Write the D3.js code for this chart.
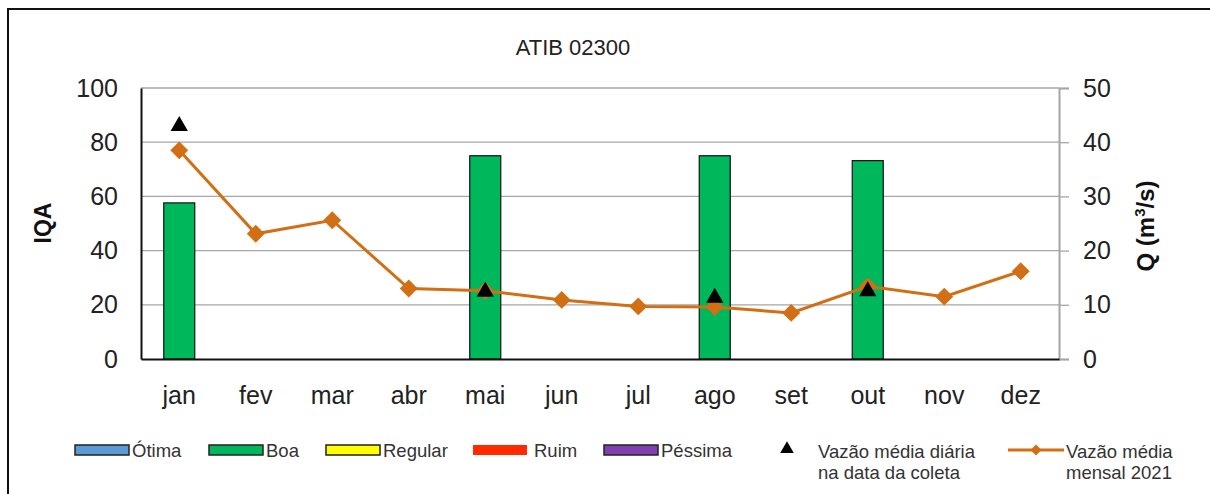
<!DOCTYPE html>
<html lang="pt">
<head>
<meta charset="UTF-8">
<title>ATIB 02300</title>
<script src="https://cdn.jsdelivr.net/npm/d3@7"></script>
<style>
    body { margin: 0; background: #fff; font-family: "Liberation Sans", Arial, sans-serif; }
    .tick text { font-size: 25px; fill: #222; }
    .legend text { font-size: 18.5px; fill: #333; }
</style>
</head>
<body>
<div id="chart"></div>
<script>
    var WIDTH = 1210, HEIGHT = 494;
    var PLOT = {left: 141, right: 1059, top: 88, bottom: 359};

    var MONTHS = ["jan", "fev", "mar", "abr", "mai", "jun", "jul", "ago", "set", "out", "nov", "dez"];
    // IQA por mes (null = sem coleta)
    var IQA = [57.6, null, null, null, 75, null, null, 75, null, 73.2, null, null];
    var IQA_CLASS = ["Boa", null, null, null, "Boa", null, null, "Boa", null, "Boa", null, null];
    // vazao media diaria na data da coleta
    var Q_DAILY = [43.0, null, null, null, 12.4, null, null, 11.3, null, 12.5, null, null];
    // vazao media mensal 2021
    var Q_MONTHLY = [38.5, 23.1, 25.6, 13.0, 12.6, 10.9, 9.7, 9.6, 8.5, 13.4, 11.5, 16.2];
    var IQA_TICKS = [0, 20, 40, 60, 80, 100];
    var Q_TICKS = [0, 10, 20, 30, 40, 50];

    var CLASSES = ["Ótima", "Boa", "Regular", "Ruim", "Péssima"];
    var CLASS_COLORS = {"Ótima": "#5b9bd5", "Boa": "#00b85c", "Regular": "#ffff00", "Ruim": "#ff2a00", "Péssima": "#8040b0"};
    var LINE_COLOR = "#d26f14";
    var GRID_COLOR = "#a6a6a6";

    var svg = d3.select("#chart").append("svg")
        .attr("width", WIDTH).attr("height", HEIGHT);

    // outer frame
    svg.append("rect")
        .attr("x", 8).attr("y", 9).attr("width", WIDTH + 20).attr("height", HEIGHT + 20)
        .attr("fill", "none").attr("stroke", "#111").attr("stroke-width", 2);

    svg.append("text").text("ATIB 02300")
        .attr("x", 573).attr("y", 55).attr("text-anchor", "middle")
        .style("font-size", "22px").style("fill", "#222");

    var x = d3.scaleBand().domain(MONTHS).range([PLOT.left, PLOT.right]);
    var yL = d3.scaleLinear().domain([0, 100]).range([PLOT.bottom, PLOT.top]);
    var yR = d3.scaleLinear().domain([0, 50]).range([PLOT.bottom, PLOT.top]);

    // gridlines
    svg.append("g").selectAll("line").data(IQA_TICKS.slice(1)).enter().append("line")
        .attr("x1", PLOT.left).attr("x2", PLOT.right)
        .attr("y1", function(d){ return yL(d); }).attr("y2", function(d){ return yL(d); })
        .attr("stroke", GRID_COLOR).attr("stroke-width", 1.3);

    // bars
    var barW = 31;
    svg.append("g").selectAll("rect")
        .data(MONTHS.map(function(m, i){ return {m: m, v: IQA[i], c: IQA_CLASS[i]}; })
            .filter(function(d){ return d.v !== null; }))
        .enter().append("rect")
        .attr("x", function(d){ return x(d.m) + x.bandwidth() / 2 - barW / 2; })
        .attr("y", function(d){ return yL(d.v); })
        .attr("width", barW)
        .attr("height", function(d){ return yL(0) - yL(d.v); })
        .attr("fill", function(d){ return CLASS_COLORS[d.c]; })
        .attr("stroke", "#111").attr("stroke-width", 1.2);

    // axes
    var leftAxis = svg.append("g").attr("transform", "translate(" + PLOT.left + ",0)")
        .call(d3.axisLeft(yL).tickValues(IQA_TICKS).tickSize(0).tickPadding(23));
    leftAxis.select(".domain").attr("stroke", "#111").attr("stroke-width", 2);

    var rightAxis = svg.append("g").attr("transform", "translate(" + PLOT.right + ",0)")
        .call(d3.axisRight(yR).tickValues(Q_TICKS).tickSize(10).tickPadding(14));
    rightAxis.select(".domain").attr("stroke", GRID_COLOR).attr("stroke-width", 2);
    rightAxis.selectAll(".tick line").attr("stroke", GRID_COLOR).attr("stroke-width", 1.3);

    var bottomAxis = svg.append("g").attr("transform", "translate(0," + PLOT.bottom + ")")
        .call(d3.axisBottom(x).tickSize(0).tickPadding(27));
    bottomAxis.select(".domain").attr("stroke", "#111").attr("stroke-width", 2);

    svg.append("text").text("IQA")
        .attr("transform", "translate(51,223) rotate(-90)")
        .attr("text-anchor", "middle")
        .style("font-size", "23px").style("font-weight", "bold").style("fill", "#111");

    var qLabel = svg.append("text")
        .attr("transform", "translate(1154,226) rotate(-90)")
        .attr("text-anchor", "middle")
        .style("font-size", "24px").style("font-weight", "bold").style("fill", "#111");
    qLabel.append("tspan").text("Q (m");
    qLabel.append("tspan").text("3").attr("dy", -9).style("font-size", "15px");
    qLabel.append("tspan").text("/s)").attr("dy", 9);

    // monthly line
    var cx = function(i){ return x(MONTHS[i]) + x.bandwidth() / 2; };
    var line = d3.line().x(function(d, i){ return cx(i); }).y(function(d){ return yR(d); });
    svg.append("path").datum(Q_MONTHLY)
        .attr("d", line).attr("fill", "none")
        .attr("stroke", LINE_COLOR).attr("stroke-width", 3);

    var diamond = d3.symbol().type(d3.symbolSquare).size(160);
    svg.append("g").selectAll("path").data(Q_MONTHLY).enter().append("path")
        .attr("d", diamond)
        .attr("transform", function(d, i){ return "translate(" + cx(i) + "," + yR(d) + ") rotate(45)"; })
        .attr("fill", LINE_COLOR);

    // daily flow at sampling date
    var tri = d3.symbol().type(d3.symbolTriangle).size(130);
    svg.append("g").selectAll("path")
        .data(Q_DAILY.map(function(v, i){ return {v: v, i: i}; }).filter(function(d){ return d.v !== null; }))
        .enter().append("path")
        .attr("d", tri)
        .attr("transform", function(d){ return "translate(" + cx(d.i) + "," + yR(d.v) + ")"; })
        .attr("fill", "#000");

    // legend
    var legend = svg.append("g").attr("class", "legend");
    var LEGEND_X = [75, 209, 326, 473, 604];
    CLASSES.forEach(function(c, i){
        var g = legend.append("g").attr("transform", "translate(" + LEGEND_X[i] + ",445)");
        g.append("rect").attr("width", 54).attr("height", 10)
            .attr("fill", CLASS_COLORS[c])
            .attr("stroke", c === "Ruim" ? "none" : "#222").attr("stroke-width", 1.5);
        g.append("text").text(c).attr("x", c === "Ruim" ? 61 : 57).attr("y", 12);
    });

    legend.append("path").attr("d", d3.symbol().type(d3.symbolTriangle).size(80))
        .attr("transform", "translate(787,449)").attr("fill", "#000");
    legend.append("text").attr("x", 818).attr("y", 458).text("Vazão média diária");
    legend.append("text").attr("x", 818).attr("y", 479).text("na data da coleta");

    legend.append("line").attr("x1", 1008).attr("x2", 1064).attr("y1", 450).attr("y2", 450)
        .attr("stroke", LINE_COLOR).attr("stroke-width", 3);
    legend.append("path").attr("d", d3.symbol().type(d3.symbolSquare).size(60))
        .attr("transform", "translate(1036,450) rotate(45)").attr("fill", LINE_COLOR);
    legend.append("text").attr("x", 1066).attr("y", 458).text("Vazão média");
    legend.append("text").attr("x", 1066).attr("y", 479).text("mensal 2021");
</script>
</body>
</html>
